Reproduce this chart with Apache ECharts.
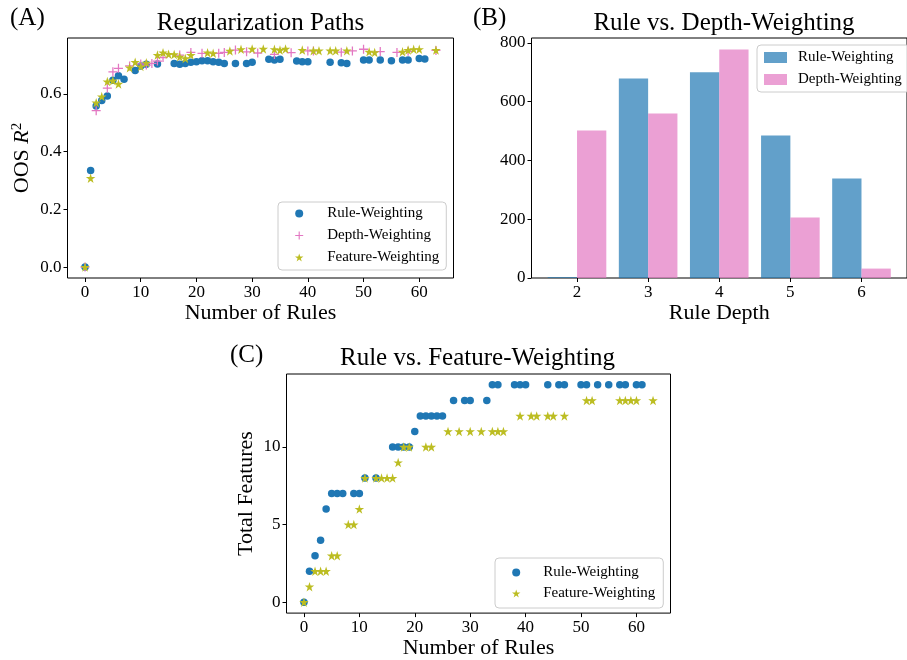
<!DOCTYPE html>
<html>
<head>
<meta charset="utf-8">
<script src="https://cdn.jsdelivr.net/npm/echarts@6/dist/echarts.min.js"></script>
<style>
  html, body { margin: 0; padding: 0; background: #fff; }
  #main { width: 907px; height: 660px; }
</style>
</head>
<body>
<div id="main"></div>
<script>
// (A) regularization paths: number of rules vs OOS R^2
var ruleX = [0,1,2,3,4,5,6,7,9,10,11,13,16,17,18,19,20,21,22,23,24,25,27,29,30,33,34,35,38,39,40,44,46,47,50,51,53,55,57,58,60,61];
var ruleR2 = [0,0.335,0.558,0.577,0.593,0.648,0.663,0.651,0.681,0.697,0.703,0.704,0.706,0.703,0.706,0.710,0.712,0.715,0.715,0.712,0.710,0.706,0.706,0.706,0.710,0.720,0.718,0.720,0.714,0.712,0.712,0.710,0.708,0.706,0.718,0.718,0.718,0.715,0.718,0.718,0.723,0.721];
var depthX = [0,2,4,5,6,8,10,11,12,13,14,17,19,21,24,25,27,29,31,34,37,40,41,46,48,50,53,56,58,63];
var depthR2 = [0,0.542,0.620,0.677,0.689,0.697,0.704,0.700,0.706,0.714,0.726,0.735,0.744,0.741,0.741,0.744,0.752,0.746,0.742,0.737,0.743,0.749,0.749,0.745,0.749,0.755,0.747,0.744,0.748,0.751];
var featX = [0,1,2,3,4,5,6,8,9,10,11,13,14,15,16,17,18,19,22,23,26,28,30,32,34,35,36,39,41,42,44,45,47,51,52,57,58,59,60,63];
var featR2 = [0,0.308,0.570,0.591,0.643,0.646,0.635,0.691,0.710,0.695,0.708,0.735,0.743,0.738,0.737,0.729,0.723,0.735,0.743,0.741,0.749,0.755,0.756,0.756,0.755,0.752,0.756,0.752,0.750,0.750,0.750,0.750,0.750,0.746,0.744,0.746,0.752,0.755,0.755,0.752];

// (B) rule depth histogram
var depths = [2,3,4,5,6];
var ruleDepthCount = [3,679,700,485,339];
var depthDepthCount = [502,560,778,206,32];

// (C) total features used
var ruleFeat = [0,2,3,4,6,7,7,7,7,7,8,8,10,10,10,10,11,12,12,12,12,12,13,13,13,13,14,14,14,14,14,14,14,14,14,14,14,14,14,14,14,14];
var featFeat = [0,1,2,2,2,3,3,5,5,6,8,8,8,8,8,9,10,10,10,10,11,11,11,11,11,11,11,12,12,12,12,12,12,13,13,13,13,13,13,13];

var ruleTicks = [0,10,20,30,40,50,60];
var r2Ticks = [0,0.2,0.4,0.6];
var countTicks = [0,200,400,600,800];
var featTicks = [0,5,10];

var FONT = 'Liberation Serif';
var BLUE = '#1f77b4', PINK = '#e377c2', OLIVE = '#bcbd22';
var STAR = 'path://M0,-100L22.45,-30.9L95.1,-30.9L36.3,11.8L58.8,80.9L0,38.2L-58.8,80.9L-36.3,11.8L-95.1,-30.9L-22.45,-30.9Z';
var PLUS = 'path://M-1.4,-10H1.4V-1.4H10V1.4H1.4V10H-1.4V1.4H-10V-1.4H-1.4Z';

function pairs(xs, ys) {
  return xs.map(function (x, i) { return [x, ys[i]]; });
}

function valAxis(idx, min, max, ticks, fmt, name, gap) {
  return {
    type: 'value', gridIndex: idx, min: min, max: max,
    name: name, nameLocation: 'middle', nameGap: gap,
    nameTextStyle: { fontFamily: FONT, fontSize: 22, color: '#000' },
    axisLine: { show: false, onZero: false },
    axisTick: { show: true, length: 4, customValues: ticks, lineStyle: { color: '#000' } },
    axisLabel: { customValues: ticks, formatter: fmt, fontFamily: FONT, fontSize: 17, color: '#000', margin: 6 },
    splitLine: { show: false }
  };
}

var legendBase = {
  orient: 'vertical',
  backgroundColor: 'rgba(255,255,255,0.8)',
  borderColor: '#cccccc', borderWidth: 1, borderRadius: 4,
  textStyle: { fontFamily: FONT, fontSize: 15, color: '#000' },
  formatter: function (n) { return n.replace(/ \(.\)$/, ''); },
  selectedMode: false
};

var chart = echarts.init(document.getElementById('main'));
chart.setOption({
  animation: false,
  backgroundColor: '#fff',
  grid: [
    { left: 67.5, top: 38, width: 386, height: 240, show: true, borderColor: '#000', borderWidth: 1 },
    { left: 531.5, top: 38, width: 387, height: 240, show: true, borderColor: '#000', borderWidth: 1 },
    { left: 286.5, top: 374, width: 384, height: 240, show: true, borderColor: '#000', borderWidth: 1 }
  ],
  xAxis: [
    valAxis(0, -3.15, 66.15, ruleTicks, null, 'Number of Rules', 21),
    valAxis(1, 1.36, 6.64, depths, null, 'Rule Depth', 21),
    valAxis(2, -3.15, 66.15, ruleTicks, null, 'Number of Rules', 21)
  ],
  yAxis: [
    (function () {
      var a = valAxis(0, -0.0378, 0.794, r2Ticks, function (v) { return v.toFixed(1); }, '{n|OOS }{i|R}{s|2}', 33);
      a.nameTextStyle.rich = {
        n: { fontFamily: FONT, fontSize: 22, color: '#000' },
        i: { fontFamily: FONT, fontSize: 22, fontStyle: 'italic', color: '#000' },
        s: { fontFamily: FONT, fontSize: 15, color: '#000', verticalAlign: 'top', padding: [0, 0, 10, 0] }
      };
      return a;
    })(),
    valAxis(1, 0, 817, countTicks, null, '', 0),
    valAxis(2, -0.7, 14.7, featTicks, null, 'Total Features', 29)
  ],
  legend: [
    Object.assign({}, legendBase, {
      left: 278, top: 202, padding: [4, 7, 5, 17], itemGap: 7, itemWidth: 27, itemHeight: 8,
      textStyle: Object.assign({}, legendBase.textStyle, { padding: [0, 0, 0, 9.5] }),
      data: ['Rule-Weighting (A)', 'Depth-Weighting (A)', 'Feature-Weighting (A)']
    }),
    Object.assign({}, legendBase, {
      left: 757, top: 45, padding: [5, 8, 5, 7], itemGap: 7, itemWidth: 23, itemHeight: 11, icon: 'rect',
      textStyle: Object.assign({}, legendBase.textStyle, { padding: [0, 0, 0, 6] }),
      data: ['Rule-Weighting (B)', 'Depth-Weighting (B)']
    }),
    Object.assign({}, legendBase, {
      left: 495, top: 558, padding: [7, 8, 7, 17], itemGap: 6, itemWidth: 26, itemHeight: 8,
      textStyle: Object.assign({}, legendBase.textStyle, { padding: [0, 0, 0, 9] }),
      data: ['Rule-Weighting (C)', 'Feature-Weighting (C)']
    })
  ],
  graphic: [
    { type: 'text', x: 260.5, y: 23, style: { text: 'Regularization Paths', fontFamily: FONT, fontSize: 25, fill: '#000', textAlign: 'center', textVerticalAlign: 'middle' } },
    { type: 'text', x: 724, y: 23, style: { text: 'Rule vs. Depth-Weighting', fontFamily: FONT, fontSize: 25, fill: '#000', textAlign: 'center', textVerticalAlign: 'middle' } },
    { type: 'text', x: 477.5, y: 358, style: { text: 'Rule vs. Feature-Weighting', fontFamily: FONT, fontSize: 25, fill: '#000', textAlign: 'center', textVerticalAlign: 'middle' } },
    { type: 'text', x: 10, y: 18, style: { text: '(A)', fontFamily: FONT, fontSize: 25, fill: '#000', textAlign: 'left', textVerticalAlign: 'middle' } },
    { type: 'text', x: 473, y: 18, style: { text: '(B)', fontFamily: FONT, fontSize: 25, fill: '#000', textAlign: 'left', textVerticalAlign: 'middle' } },
    { type: 'text', x: 230, y: 355, style: { text: '(C)', fontFamily: FONT, fontSize: 25, fill: '#000', textAlign: 'left', textVerticalAlign: 'middle' } }
  ],
  series: [
    { name: 'Rule-Weighting (A)', type: 'scatter', xAxisIndex: 0, yAxisIndex: 0, symbol: 'circle', symbolSize: 7.5,
      itemStyle: { color: BLUE, opacity: 1 }, data: pairs(ruleX, ruleR2) },
    { name: 'Depth-Weighting (A)', type: 'scatter', xAxisIndex: 0, yAxisIndex: 0, symbol: PLUS, symbolSize: 9,
      itemStyle: { color: PINK, opacity: 1 }, data: pairs(depthX, depthR2) },
    { name: 'Feature-Weighting (A)', type: 'scatter', xAxisIndex: 0, yAxisIndex: 0, symbol: STAR, symbolSize: 9.5,
      itemStyle: { color: OLIVE, opacity: 1 }, data: pairs(featX, featR2) },
    { name: 'Rule-Weighting (B)', type: 'bar', xAxisIndex: 1, yAxisIndex: 1, barWidth: 29.3, barGap: '0%',
      itemStyle: { color: 'rgba(31,119,180,0.7)' }, data: pairs(depths, ruleDepthCount) },
    { name: 'Depth-Weighting (B)', type: 'bar', xAxisIndex: 1, yAxisIndex: 1, barWidth: 29.3, barGap: '0%',
      itemStyle: { color: 'rgba(227,119,194,0.7)' }, data: pairs(depths, depthDepthCount) },
    { name: 'Rule-Weighting (C)', type: 'scatter', xAxisIndex: 2, yAxisIndex: 2, symbol: 'circle', symbolSize: 7.5,
      itemStyle: { color: BLUE, opacity: 1 }, data: pairs(ruleX, ruleFeat) },
    { name: 'Feature-Weighting (C)', type: 'scatter', xAxisIndex: 2, yAxisIndex: 2, symbol: STAR, symbolSize: 9.5,
      itemStyle: { color: OLIVE, opacity: 1 }, data: pairs(featX, featFeat) }
  ]
});
</script>
</body>
</html>
